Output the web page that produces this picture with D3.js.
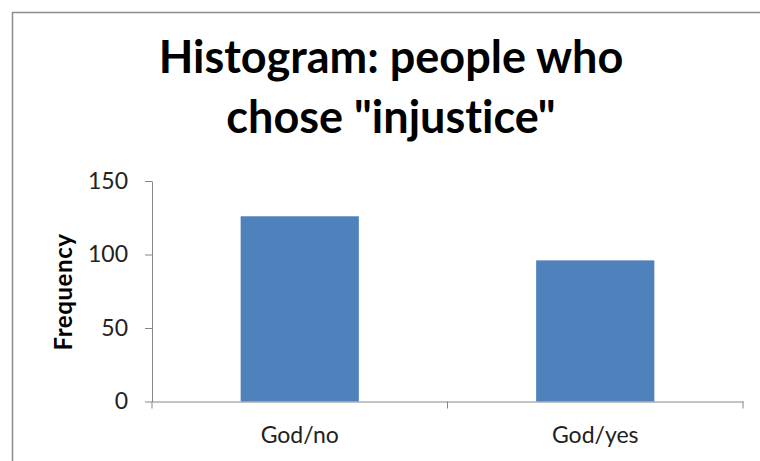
<!DOCTYPE html>
<html>
<head>
<meta charset="utf-8">
<script src="https://cdn.jsdelivr.net/npm/d3@7"></script>
<style>
  body { margin: 0; background: #fff; }
  svg { display: block; font-variant-ligatures: none; }
</style>
</head>
<body>
<div class="chart"></div>
<script>
// ----------------------------- DATA
var categories = ["God/no", "God/yes"];
var frequencies = [126, 96];
var yTicks = [0, 50, 100, 150];
var titleLines = ["Histogram: people who", "chose \"injustice\""];

var width = 760, height = 461;
var margin = {left: 152, right: 17, top: 181, bottom: 59.5};

var svg = d3.select(".chart").append("svg")
  .attr("width", width)
  .attr("height", height)
  .style("font-family", "Lato, 'Open Sans', sans-serif");

// outer frame (runs off the right and bottom edges)
svg.append("rect")
  .attr("x", 12.5).attr("y", 12.5)
  .attr("width", width).attr("height", height)
  .attr("fill", "none")
  .attr("stroke", "#8c8c8c")
  .attr("stroke-width", 1.5);

// ----------------------------- TITLE
svg.append("text")
  .attr("text-anchor", "middle")
  .attr("font-weight", "bold")
  .attr("font-size", 45)
  .attr("fill", "#000")
  .selectAll("tspan")
  .data(titleLines)
  .enter().append("tspan")
    .attr("x", 391)
    .attr("y", function(d, i){ return 73 + i * 60; })
    .text(function(d){ return d; });

// ----------------------------- SCALES
var x = d3.scaleBand()
  .domain(categories)
  .range([margin.left, width - margin.right])
  .paddingInner(0.6)
  .paddingOuter(0.3);

var y = d3.scaleLinear()
  .domain([0, 150])
  .range([height - margin.bottom, margin.top]);

// ----------------------------- BARS
svg.selectAll("rect.bar")
  .data(frequencies)
  .enter().append("rect")
    .attr("class", "bar")
    .attr("x", function(d, i){ return x(categories[i]); })
    .attr("y", function(d){ return y(d); })
    .attr("width", x.bandwidth())
    .attr("height", function(d){ return y(0) - y(d); })
    .attr("fill", "#4f81bd");

// ----------------------------- AXES
var yAxis = d3.axisLeft(y)
  .tickValues(yTicks)
  .tickSize(7)
  .tickSizeOuter(0)
  .tickPadding(17);

var gy = svg.append("g")
  .attr("transform", "translate(" + margin.left + ",0)")
  .call(yAxis);
gy.select(".domain").attr("stroke", "#868686");
gy.selectAll(".tick line").attr("stroke", "#868686");
gy.selectAll(".tick text")
  .attr("font-size", 23)
  .attr("fill", "#222")
  .attr("font-family", "Lato, sans-serif");

var xAxis = d3.axisBottom(x)
  .tickSize(0)
  .tickSizeOuter(0)
  .tickPadding(25);

var gx = svg.append("g")
  .attr("transform", "translate(0," + y(0) + ")")
  .call(xAxis);
gx.select(".domain").attr("stroke", "#868686");
gx.selectAll(".tick text")
  .attr("font-size", 23)
  .attr("fill", "#222")
  .attr("font-family", "Lato, sans-serif");

// category boundary ticks below the x axis
var bounds = [x.range()[0]].concat(categories.map(function(c){
  return x(c) + x.bandwidth() / 2 + x.step() / 2;
}));
gx.selectAll("line.bound")
  .data(bounds)
  .enter().append("line")
    .attr("class", "bound")
    .attr("x1", function(d){ return d; })
    .attr("x2", function(d){ return d; })
    .attr("y1", 0)
    .attr("y2", 7)
    .attr("stroke", "#868686");

// y axis title
svg.append("text")
  .attr("transform", "translate(72,292) rotate(-90)")
  .attr("text-anchor", "middle")
  .attr("font-weight", "bold")
  .attr("font-size", 24)
  .attr("letter-spacing", 0.6)
  .attr("fill", "#000")
  .text("Frequency");
</script>
</body>
</html>
